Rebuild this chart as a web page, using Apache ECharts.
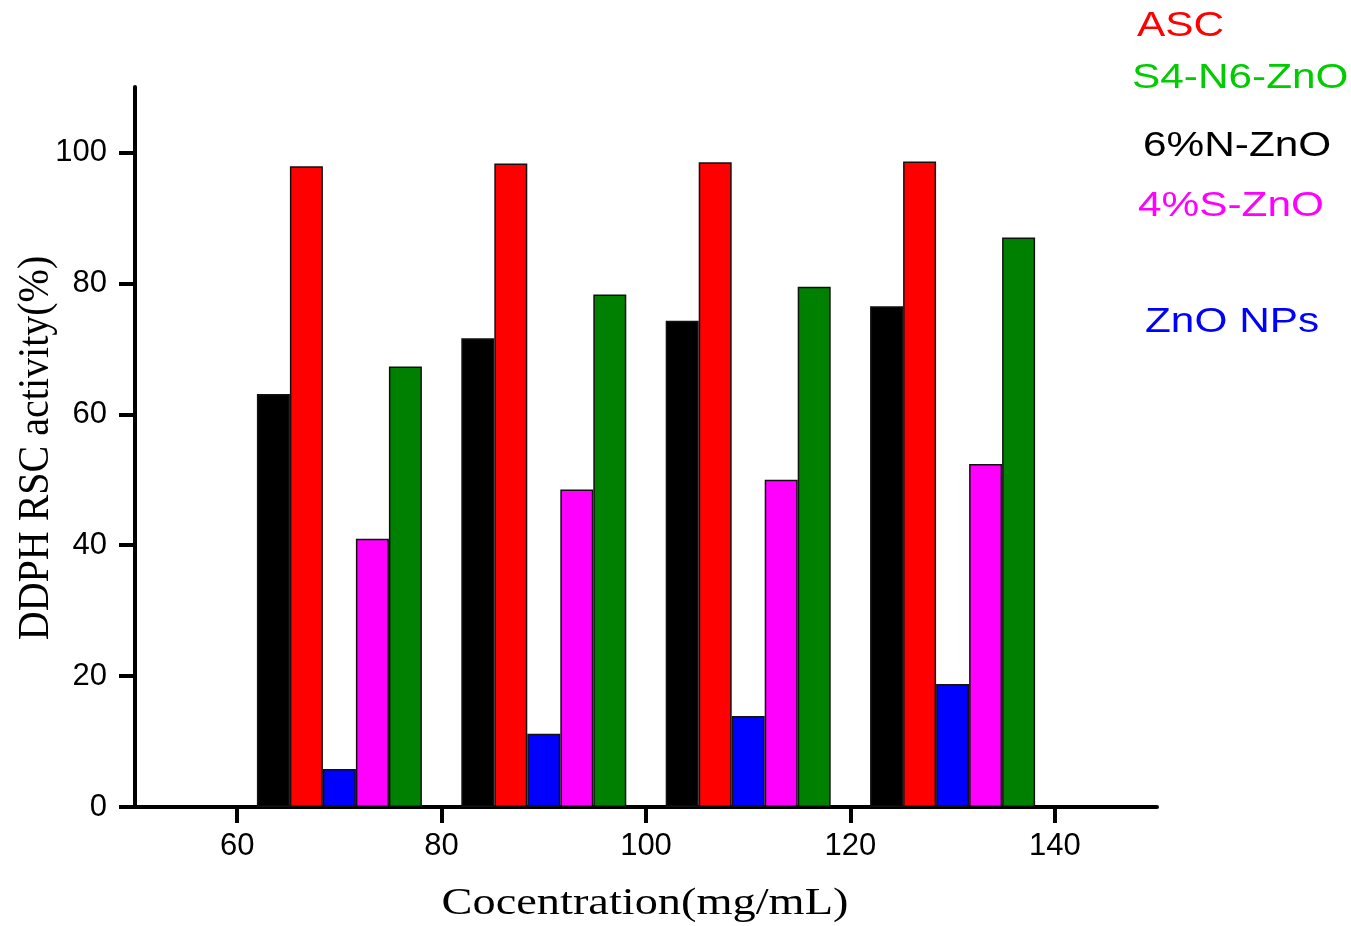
<!DOCTYPE html>
<html>
<head>
<meta charset="utf-8">
<script src="https://cdn.jsdelivr.net/npm/echarts@6/dist/echarts.min.js"></script>
<style>
  html, body { margin: 0; padding: 0; background: #fff; }
  #chart { width: 1351px; height: 926px; }
</style>
</head>
<body>
<div id="chart"></div>
<script>
// concentrations (group centres) and DDPH RSC activity (%)
const concentrations = [70, 90, 110, 130];
const nZnO = [63.1, 71.6, 74.3, 76.5];      // 6%N-ZnO
const asc = [97.9, 98.3, 98.5, 98.6];       // ASC
const znoNPs = [5.8, 11.2, 13.9, 18.8];     // ZnO NPs
const sZnO = [41.0, 48.5, 50.0, 52.4];      // 4%S-ZnO
const s4n6ZnO = [67.3, 78.3, 79.5, 87.0];   // S4-N6-ZnO

const xTicks = [60, 80, 100, 120, 140];
const yTicks = [0, 20, 40, 60, 80, 100];

const pair = vals => concentrations.map((c, i) => [c, vals[i]]);

const bar = (name, vals, color) => ({
  name: name,
  type: 'bar',
  data: pair(vals),
  barWidth: 33,
  barGap: '0%',
  itemStyle: { color: color, borderColor: '#111', borderWidth: 1.5 }
});

const legendText = (text, x, y, color) => ({
  type: 'text',
  x: x, y: y,
  scaleX: 1.21,
  style: {
    text: text, fill: color,
    font: '35px "Liberation Sans", Arial, sans-serif',
    textAlign: 'left', textVerticalAlign: 'middle'
  }
});

const chart = echarts.init(document.getElementById('chart'));
chart.setOption({
  backgroundColor: '#fff',
  animation: false,
  grid: { left: 135, right: 194, top: 87, bottom: 119 },
  xAxis: {
    type: 'value',
    min: 50, max: 150, interval: 10,
    axisLine: { lineStyle: { color: '#000', width: 4 } },
    axisTick: { length: 16, lineStyle: { color: '#000', width: 4 },
      customValues: xTicks },
    axisLabel: { color: '#000', fontSize: 31, margin: 24,
      fontFamily: '"Liberation Sans", Arial, sans-serif',
      customValues: xTicks },
    splitLine: { show: false }
  },
  yAxis: {
    type: 'value',
    min: 0, max: 110, interval: 20,
    axisLine: { show: true, lineStyle: { color: '#000', width: 4 } },
    axisTick: { show: true, length: 16, lineStyle: { color: '#000', width: 4 },
      customValues: yTicks },
    axisLabel: { color: '#000', fontSize: 31, margin: 28,
      fontFamily: '"Liberation Sans", Arial, sans-serif',
      customValues: yTicks },
    splitLine: { show: false }
  },
  series: [
    bar('6%N-ZnO', nZnO, '#000000'),
    bar('ASC', asc, '#ff0000'),
    bar('ZnO NPs', znoNPs, '#0000ff'),
    bar('4%S-ZnO', sZnO, '#ff00ff'),
    bar('S4-N6-ZnO', s4n6ZnO, '#008000')
  ],
  graphic: [
    legendText('ASC', 1137, 26, '#ff0000'),
    legendText('S4-N6-ZnO', 1132, 78, '#00cc00'),
    legendText('6%N-ZnO', 1143, 146, '#000000'),
    legendText('4%S-ZnO', 1138, 206, '#ff00ff'),
    legendText('ZnO NPs', 1145, 322, '#0000ff'),
    {
      type: 'text', x: 645, y: 904, scaleX: 1.22,
      style: {
        text: 'Cocentration(mg/mL)', fill: '#000',
        font: '38px "Liberation Serif", "Times New Roman", serif',
        textAlign: 'center', textVerticalAlign: 'middle'
      }
    },
    {
      type: 'text', x: 36, y: 448, rotation: Math.PI / 2, scaleY: 1.1,
      style: {
        text: 'DDPH RSC activity(%)', fill: '#000',
        font: '40px "Liberation Serif", "Times New Roman", serif',
        textAlign: 'center', textVerticalAlign: 'middle'
      }
    }
  ]
});
</script>
</body>
</html>
